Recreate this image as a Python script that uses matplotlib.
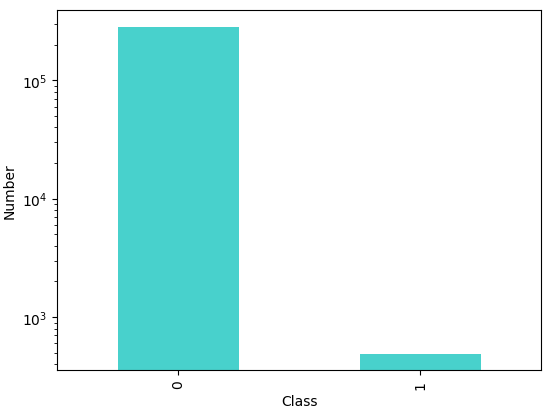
import pandas as pd
import matplotlib
matplotlib.use("Agg")
import matplotlib.pyplot as plt

# class counts
classes = ["0", "1"]
counts = [284315, 492]

s = pd.Series(counts, index=classes)

fig, ax = plt.subplots(figsize=(5.5, 4.14), dpi=100)
s.plot(kind="bar", ax=ax, color="mediumturquoise", logy=True)
ax.set_xlabel("Class")
ax.set_ylabel("Number")

fig.subplots_adjust(left=0.104, right=0.984, top=0.973, bottom=0.104)
plt.savefig("out.png")
plt.close()
